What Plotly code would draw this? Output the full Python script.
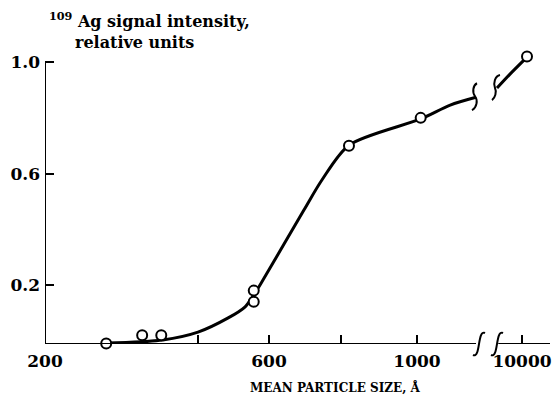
import numpy as np
import plotly.graph_objects as go

# ---- axis scale definition (broken, piecewise axis) ----
size_knots = [200, 400, 600, 800, 1000, 1160, 8000, 10000, 12240]
axis_knots = [45, 198, 269, 341, 417, 476, 497, 522, 550]

def pos(v):
    return np.interp(v, size_knots, axis_knots)

# ---- data ----
tick_sizes = [200, 400, 600, 800, 1000, 10000]
tick_labels = ["200", " ", "600", " ", "1000", "10000"]
y_tick_vals = [0.2, 0.6, 1.0]
y_tick_labels = ["0.2", "0.6", "1.0"]

marker_size = [280, 327, 352, 557, 557, 821, 1010, 10400]
marker_signal = [-0.01, 0.02, 0.02, 0.14, 0.18, 0.70, 0.80, 1.02]

curve_low_size = [280, 354, 400, 485, 532, 557, 583, 697, 747, 821, 1010, 1090, 1160]
curve_low_signal = [-0.008, 0.003, 0.031, 0.082, 0.121, 0.164, 0.218, 0.469, 0.577, 0.702, 0.796, 0.846, 0.874]
curve_high_size = [8000, 9040, 10400]
curve_high_signal = [0.907, 0.957, 1.018]

Y_MIN, Y_MAX = -0.0116, 1.04
FONT = "DejaVu Serif"
L, R, T, B = 45, 5, 51, 51
PLOT_W = 558 - L - R
PLOT_H = 395 - T - B

fig = go.Figure()
for xs, ys in [(curve_low_size, curve_low_signal), (curve_high_size, curve_high_signal)]:
    fig.add_trace(go.Scatter(x=pos(xs), y=ys, mode="lines",
                             line=dict(color="black", width=3, shape="spline", smoothing=0.8),
                             hoverinfo="skip", showlegend=False))
fig.add_trace(go.Scatter(x=pos(marker_size), y=marker_signal, mode="markers",
                         marker=dict(size=10, color="white", line=dict(color="black", width=2)),
                         cliponaxis=False, showlegend=False))

shapes = []
# axis lines
shapes.append(dict(type="line", xref="x", yref="y", x0=pos(200), x1=pos(200), y0=Y_MIN, y1=1.0,
                   line=dict(color="black", width=2)))
shapes.append(dict(type="line", xref="x", yref="y", x0=pos(200), x1=pos(1160), y0=Y_MIN, y1=Y_MIN,
                   line=dict(color="black", width=2)))
shapes.append(dict(type="line", xref="x", yref="y", x0=pos(8100), x1=pos(12240), y0=Y_MIN, y1=Y_MIN,
                   line=dict(color="black", width=2)))

integral = "M -6,-11 C -2,-13 -1,-6 0,0 C 1,6 2,13 6,11"

def px_paper(p):
    return (p - L) / PLOT_W

# axis breaks (paper refs so they are not clipped)
for xb in (479, 497):
    shapes.append(dict(type="path", xref="paper", yref="paper", xsizemode="pixel", ysizemode="pixel",
                       xanchor=px_paper(xb), yanchor=0, path=integral,
                       line=dict(color="black", width=2)))

def brk(xa, ya, path):
    return dict(type="path", xref="x", yref="y", xsizemode="pixel", ysizemode="pixel",
                xanchor=xa, yanchor=ya, path=path, line=dict(color="black", width=2))

shapes.append(brk(475, 0.874, "M 2,14 C -2,12 -3,5 0,1 C 3,-3 2,-10 -3,-13"))
shapes.append(brk(497, 0.907, "M 3,13 C -2,12 -4,5 -2,0 C 0,-4 -2,-10 -5,-12"))

def py(p):
    return (T + PLOT_H - p) / PLOT_H

annotations = [
    dict(text="<sup>109</sup> Ag signal intensity,", x=47, xref="x", xanchor="left",
         y=py(20), yref="paper", yanchor="middle", showarrow=False,
         font=dict(family=FONT, size=16, color="black", weight="bold")),
    dict(text="relative units", x=73, xref="x", xanchor="left",
         y=py(42), yref="paper", yanchor="middle", showarrow=False,
         font=dict(family=FONT, size=16, color="black", weight="bold")),
    dict(text="MEAN PARTICLE SIZE, Å", x=335, xref="x", xanchor="center",
         y=py(387), yref="paper", yanchor="middle", showarrow=False,
         font=dict(family=FONT, size=12, color="black", weight="bold")),
]

fig.update_layout(
    width=558, height=395,
    margin=dict(l=L, r=R, t=T, b=B),
    paper_bgcolor="white", plot_bgcolor="white",
    shapes=shapes, annotations=annotations,
    xaxis=dict(range=[45, 553], showline=False, showgrid=False, zeroline=False,
               ticks="inside", ticklen=9, tickwidth=1.5, tickcolor="black",
               tickvals=list(pos(tick_sizes)), ticktext=tick_labels, ticklabelstandoff=5,
               tickfont=dict(family=FONT, size=17, color="black", weight="bold")),
    yaxis=dict(range=[Y_MIN, Y_MAX], showline=False, showgrid=False, zeroline=False,
               ticks="inside", ticklen=9, tickwidth=1.5, tickcolor="black",
               tickvals=y_tick_vals, ticktext=y_tick_labels, ticklabelstandoff=4,
               tickfont=dict(family=FONT, size=17, color="black", weight="bold")),
)

fig.write_html("out.html")
